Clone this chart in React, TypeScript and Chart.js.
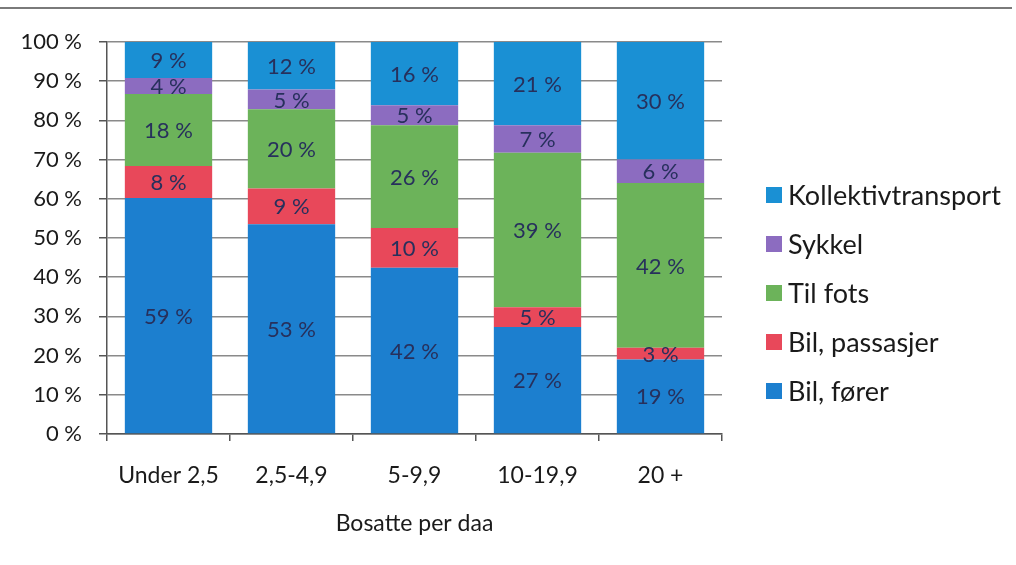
import { useEffect, useRef } from 'react';
import { Chart, registerables } from 'chart.js';

Chart.register(...registerables);

const categories = ['Under 2,5', '2,5-4,9', '5-9,9', '10-19,9', '20 +'];
const seriesNames = ['Bil, fører', 'Bil, passasjer', 'Til fots', 'Sykkel', 'Kollektivtransport'];
const bilForer = [59, 53, 42, 27, 19];
const bilPassasjer = [8, 9, 10, 5, 3];
const tilFots = [18, 20, 26, 39, 42];
const sykkel = [4, 5, 5, 7, 6];
const kollektiv = [9, 12, 16, 21, 30];
const seriesColors = ['#1c7fcf', '#e8485a', '#6cb35a', '#8c6cc0', '#1a90d4'];
const yTickValues = [0, 10, 20, 30, 40, 50, 60, 70, 80, 90, 100];
const axisTitle = 'Bosatte per daa';

const FONT = 'Lato, "Open Sans", sans-serif';

export default function App() {
  const ref = useRef<HTMLCanvasElement | null>(null);

  useEffect(() => {
    if (!ref.current) return;
    const raw = [bilForer, bilPassasjer, tilFots, sykkel, kollektiv];
    const totals = categories.map((_, i) => raw.reduce((s, arr) => s + arr[i], 0));

    const datasets = raw.map((arr, k) => ({
      label: seriesNames[k],
      data: arr.map((v, i) => (v / totals[i]) * 100),
      rawValues: arr,
      backgroundColor: seriesColors[k],
      borderWidth: 0,
      barPercentage: 0.71,
      categoryPercentage: 1,
    }));

    const labelPlugin = {
      id: 'segLabels',
      afterDatasetsDraw(chart: any) {
        const ctx = chart.ctx;
        ctx.save();
        ctx.font = `22px ${FONT}`;
        ctx.fillStyle = '#27305c';
        ctx.textAlign = 'center';
        ctx.textBaseline = 'middle';
        chart.data.datasets.forEach((ds: any, di: number) => {
          const meta = chart.getDatasetMeta(di);
          meta.data.forEach((el: any, i: number) => {
            const y = (el.y + el.base) / 2;
            ctx.fillText(`${ds.rawValues[i]} %`, el.x, y + 1);
          });
        });
        ctx.restore();
      },
    };

    const legendPlugin = {
      id: 'sideLegend',
      afterDraw(chart: any) {
        const ctx = chart.ctx;
        ctx.save();
        ctx.font = `27px ${FONT}`;
        ctx.textAlign = 'left';
        ctx.textBaseline = 'middle';
        const n = chart.data.datasets.length;
        const x0 = 766;
        const y0 = 195;
        const step = 49;
        for (let j = 0; j < n; j++) {
          const ds = chart.data.datasets[n - 1 - j];
          const cy = y0 + j * step;
          ctx.fillStyle = ds.backgroundColor;
          ctx.fillRect(x0, cy - 8, 16, 16);
          ctx.fillStyle = '#1a1a1a';
          ctx.fillText(ds.label, x0 + 22, cy + 1);
        }
        ctx.restore();
      },
    };

    const chart = new Chart(ref.current, {
      type: 'bar',
      data: { labels: categories, datasets: datasets as any },
      options: {
        animation: false,
        responsive: false,
        layout: { padding: { top: 42, right: 294, bottom: 0, left: 0 } },
        plugins: {
          legend: { display: false },
          tooltip: { enabled: false },
        },
        scales: {
          x: {
            stacked: true,
            grid: {
              drawOnChartArea: false,
              drawTicks: true,
              tickLength: 7,
              color: '#555',
              lineWidth: 1.5,
              offset: true,
            },
            border: { display: true, color: '#555', width: 1.5 },
            ticks: {
              font: { family: FONT, size: 23 },
              color: '#1a1a1a',
              padding: 21,
              maxRotation: 0,
            },
            title: {
              display: true,
              text: axisTitle,
              font: { family: FONT, size: 23 },
              color: '#1a1a1a',
              padding: { top: 0, bottom: 28 },
            },
            afterFit: (scale: any) => {
              scale.height = 131;
            },
          },
          y: {
            stacked: true,
            min: 0,
            max: 100,
            afterBuildTicks: (scale: any) => {
              scale.ticks = yTickValues.map((v) => ({ value: v }));
            },
            grid: {
              color: '#8a8a8a',
              lineWidth: 1.5,
              drawTicks: true,
              tickLength: 8,
              tickColor: '#555',
            },
            border: { display: true, color: '#555', width: 1.5 },
            ticks: {
              font: { family: FONT, size: 22 },
              color: '#1a1a1a',
              padding: 17,
              callback: (v: any) => `${v} %`,
            },
            afterFit: (scale: any) => {
              scale.width = 107;
            },
          },
        },
      },
      plugins: [labelPlugin, legendPlugin],
    });
    return () => chart.destroy();
  }, []);

  return (
    <div style={{ position: 'absolute', left: 0, top: 0, width: 1016, height: 565, background: '#fff' }}>
      <div style={{ position: 'absolute', left: 0, top: 7, width: 1012, height: 2, background: '#7a7a7a' }} />
      <canvas ref={ref} width={1016} height={565} style={{ display: 'block' }} />
    </div>
  );
}
